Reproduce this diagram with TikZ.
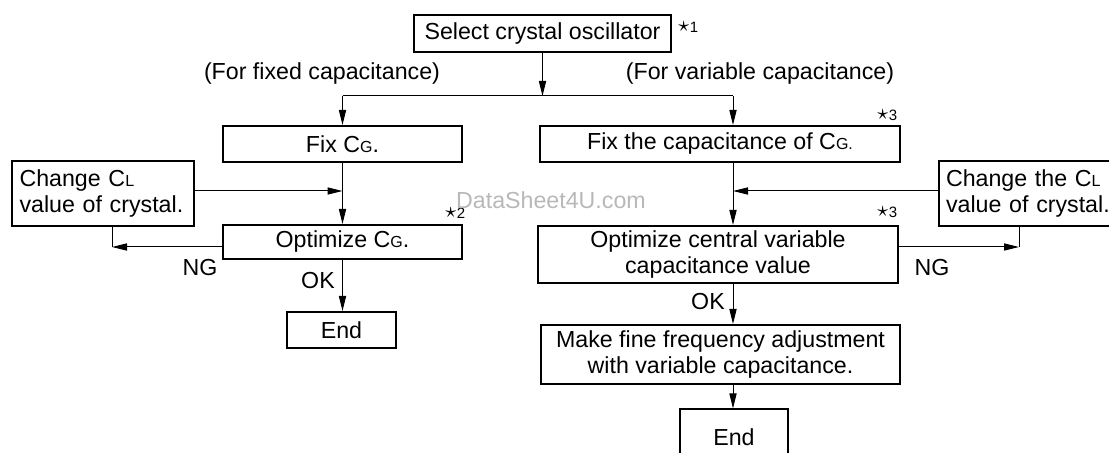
\documentclass[tikz,border=0pt]{standalone}
\usepackage{fontspec}
\setmainfont{Liberation Sans}
\usepackage{tikz}
\usetikzlibrary{calc}
\usetikzlibrary{arrows.meta}

\newcommand{\sm}[1]{{\fontsize{8}{8}\selectfont #1}}
\newcommand{\note}[1]{{\fontsize{7.5}{8}\selectfont\raisebox{0.2pt}{\scalebox{1.5}{$\star$}}#1}}

\tikzset{
  box/.style={draw=black,line width=1pt,inner sep=0pt,align=center},
  flow/.style={line width=0.5pt,-{Triangle[length=7.5pt,width=3.6pt]}},
  link/.style={line width=0.5pt},
}

\begin{document}
\begin{tikzpicture}[x=0.5pt,y=-0.5pt,font=\fontsize{11.6}{12.6}\selectfont]
            \useasboundingbox (0,0) rectangle (1109,453);

            % Place the boxes
            \node[box,minimum width=128.5pt,minimum height=18.5pt] (sel) at (542.5,33.5) {Select crystal oscillator};
            \node[box,minimum width=119.5pt,minimum height=18pt] (fixg) at (342.5,144) {Fix C\sm{G}.};
            \node[box,minimum width=90.5pt,minimum height=32.5pt,text width=83pt,inner xsep=4pt,align=left] (chgl) at (102.5,193.5) {Change C\sm{L}\\value of crystal.};
            \node[box,minimum width=119.5pt,minimum height=17pt] (optg) at (342.5,242) {Optimize C\sm{G}.};
            \node[box,minimum width=54.5pt,minimum height=18pt] (endl) at (341.5,330) {End};
            \node[box,minimum width=180pt,minimum height=18pt] (fixv) at (720,144) {Fix the capacitance of C\sm{G.}};
            \node[box,minimum width=89pt,minimum height=32.5pt,text width=82pt,inner xsep=3.5pt,align=left] (chgr) at (1028,193.5) {Change the C\sm{L}\\value of crystal.};
            \node[box,minimum width=180pt,minimum height=28.5pt] (optv) at (718,254.5) {Optimize central variable\\capacitance value};
            \node[box,minimum width=179.5pt,minimum height=29.5pt] (fine) at (720.5,354.5) {Make fine frequency adjustment\\with variable capacitance.};
            \node[box,minimum width=54pt,minimum height=28pt] (endr) at (734,437.5) {End};

            % Place the labels
            \node (lfix) at (322,74) {(For fixed capacitance)};
            \node (lvar) at (760,74) {(For variable capacitance)};
            \node (n1) at (688,27) {\note{1}};
            \node (n2) at (455,213) {\note{2}};
            \node (n3a) at (887,115) {\note{3}};
            \node (n3b) at (887,212) {\note{3}};
            \node (ngl) at (200,268) {NG};
            \node (ngr) at (932,268) {NG};
            \node (okl) at (318,281) {OK};
            \node (okr) at (708,302) {OK};
            \node[text=black!28] (wm) at (551,200) {DataSheet4U.com};

            % Corner points
            \coordinate (bl) at (342.5,96);
            \coordinate (br) at (733,96);
            \coordinate (ml) at (342.5,191);
            \coordinate (mr) at (733,191);
            \coordinate (cl) at (112,247);
            \coordinate (cr) at (1019,247);

            % The lines!
            \draw[flow] (sel) -- (sel.south |- bl);
            \draw[link] (bl) -- (br);
            \draw[flow] (bl) -- (fixg);
            \draw[flow] (br) -- (br |- fixv.north);
            \draw[flow] (fixg) -- (optg);
            \draw[flow] (chgl.east |- ml) -- (ml);
            \draw[flow] (optg.west |- cl) -- (cl);
            \draw[link] (cl) -- (cl |- chgl.south);
            \draw[flow] (optg) -- (endl.north -| optg);
            \draw[flow] (br |- fixv.south) -- (br |- optv.north);
            \draw[flow] (chgr.west |- mr) -- (mr);
            \draw[flow] (optv.east |- cr) -- (cr);
            \draw[link] (cr) -- (cr |- chgr.south);
            \draw[flow] (br |- optv.south) -- (br |- fine.north);
            \draw[flow] (br |- fine.south) -- (br |- endr.north);
        \end{tikzpicture}
\end{document}
